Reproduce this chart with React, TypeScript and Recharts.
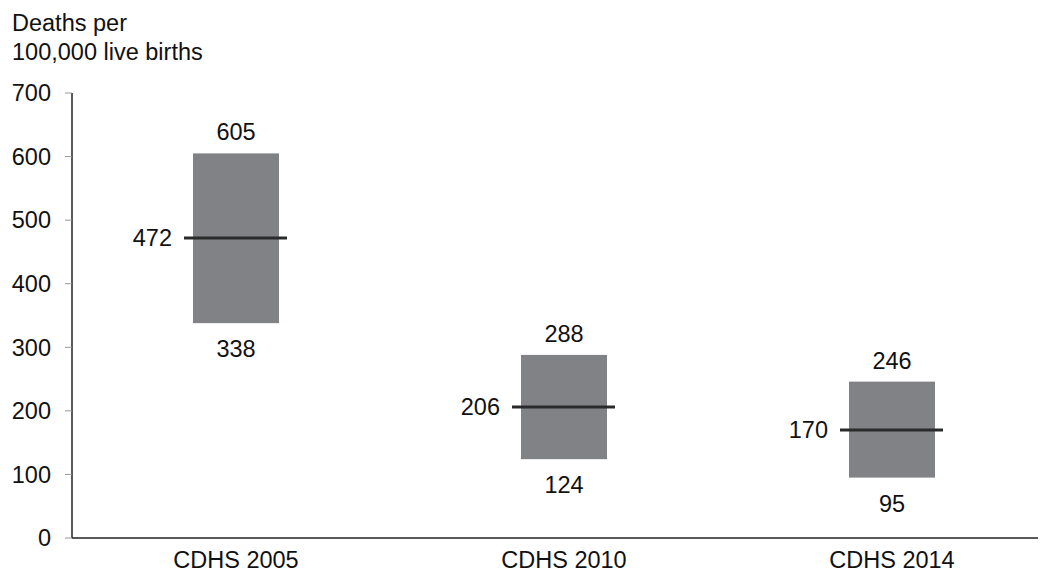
import { ComposedChart, Bar, Line, XAxis, YAxis } from "recharts";

// Maternal mortality ratio estimates with confidence intervals
const surveys = ["CDHS 2005", "CDHS 2010", "CDHS 2014"];
const lowValues = [338, 124, 95];
const highValues = [605, 288, 246];
const midValues = [472, 206, 170];
const yTicks = [0, 100, 200, 300, 400, 500, 600, 700];

const data = surveys.map((name, i) => ({
  name,
  range: [lowValues[i], highValues[i]],
  low: lowValues[i],
  high: highValues[i],
  mid: midValues[i],
}));

const FONT = "'Liberation Sans', Arial, sans-serif";
const FS = 23.5;
const BOX = "#818285";
const INK = "#111";

const RangeBox = (props: any) => {
  const { x, y, width, height, payload } = props;
  const cx = x + width / 2;
  return (
    <g>
      <rect x={x} y={y} width={width} height={height} fill={BOX} />
      <text x={cx} y={y - 13} textAnchor="middle" fontSize={FS} fontFamily={FONT} fill={INK}>
        {payload.high}
      </text>
      <text x={cx} y={y + height + 34} textAnchor="middle" fontSize={FS} fontFamily={FONT} fill={INK}>
        {payload.low}
      </text>
    </g>
  );
};

const MidMark = (props: any) => {
  const { cx, cy, payload, index } = props;
  if (cx == null || cy == null) return <g key={index} />;
  return (
    <g key={index}>
      <line x1={cx - 52} x2={cx + 51} y1={cy} y2={cy} stroke="#2a2a2a" strokeWidth={3} />
      <text x={cx - 64} y={cy + 8} textAnchor="end" fontSize={FS} fontFamily={FONT} fill={INK}>
        {payload.mid}
      </text>
    </g>
  );
};

export default function App() {
  return (
    <div style={{ position: "relative", width: 1038, height: 570, overflow: "hidden", fontFamily: FONT }}>
      <div
        style={{
          position: "absolute",
          left: 4,
          top: 1,
          fontSize: FS,
          lineHeight: "29px",
          color: INK,
          zIndex: 2,
        }}
      >
        Deaths per
        <br />
        100,000 live births
      </div>
      <ComposedChart
        width={1048}
        height={570}
        data={data}
        margin={{ top: 85, right: 0, bottom: 0, left: 0 }}
      >
        <XAxis
          dataKey="name"
          height={40}
          tickLine={false}
          tickSize={0}
          tickMargin={13}
          axisLine={{ stroke: "#222", strokeWidth: 1.5 }}
          tick={{ fontSize: FS, fill: INK, fontFamily: FONT }}
        />
        <YAxis
          width={64}
          domain={[0, 700]}
          ticks={yTicks}
          interval={0}
          tickSize={7}
          tickMargin={14}
          tickLine={{ stroke: "#999" }}
          axisLine={{ stroke: "#222", strokeWidth: 1.5 }}
          tick={{ fontSize: FS, fill: INK, fontFamily: FONT }}
        />
        <Bar dataKey="range" barSize={86} shape={RangeBox} isAnimationActive={false} />
        <Line
          dataKey="mid"
          stroke="none"
          dot={MidMark}
          activeDot={false}
          isAnimationActive={false}
        />
      </ComposedChart>
    </div>
  );
}
